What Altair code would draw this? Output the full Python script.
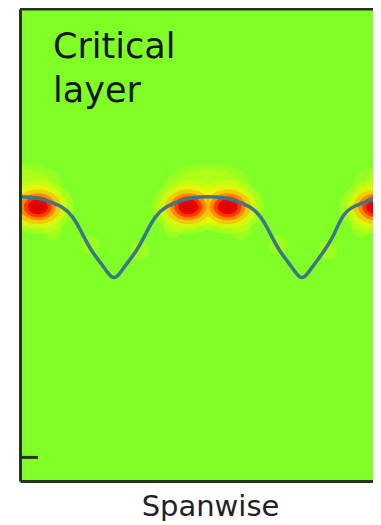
import altair as alt
import pandas as pd

# Critical-layer line: spanwise position (wavelengths) vs wall-normal height
curve_x = [0.00, 0.08, 0.15, 0.22, 0.28, 0.33, 0.38, 0.44, 0.47, 0.50, 0.53, 0.56, 0.62,
           0.67, 0.72, 0.78, 0.85, 0.92, 1.00, 1.08, 1.15, 1.22, 1.28, 1.33, 1.38, 1.44,
           1.47, 1.50, 1.53, 1.56, 1.62, 1.67, 1.72, 1.78, 1.85, 1.92, 2.00]
curve_y = [0.602, 0.600, 0.593, 0.581, 0.559, 0.525, 0.489, 0.456, 0.440, 0.431, 0.440,
           0.456, 0.489, 0.525, 0.559, 0.581, 0.593, 0.600, 0.602, 0.600, 0.593, 0.581,
           0.559, 0.525, 0.489, 0.456, 0.440, 0.431, 0.440, 0.456, 0.489, 0.523, 0.562,
           0.582, 0.593, 0.600, 0.602]

# Strong hot spots (red cores) flanking each crest
hot_x = [-0.105, 0.095, 0.895, 1.105, 1.895, 2.105]
hot_y = [0.581, 0.581, 0.581, 0.581, 0.581, 0.581]

# Weak yellow dome above each crest
dome_x = [0.0, 1.0, 2.0]
dome_y = [0.632, 0.632, 0.632]

# Faint yellow patches along the flanks
weak_x = [0.176, 0.372, 0.638, 0.814, 1.176, 1.372, 1.638, 1.814]
weak_y = [0.532, 0.500, 0.489, 0.536, 0.532, 0.500, 0.489, 0.536]

tick_y = [0.05]
top_y = [1.0]
label_text = ["Critical\nlayer"]

GREEN = "#80ff26"
FRAME = "#24361a"
ELLIPSE = "M -1 0 A 1 0.75 0 1 0 1 0 A 1 0.75 0 1 0 -1 0 Z"
FLAT = "M -1 0 A 1 0.45 0 1 0 1 0 A 1 0.45 0 1 0 -1 0 Z"

xs = alt.Scale(domain=[0, 2], nice=False, zero=False)
ys = alt.Scale(domain=[0, 1], nice=False, zero=False)

x_axis = alt.Axis(title="Spanwise", labels=False, ticks=False, grid=False, domain=True,
                  domainColor=FRAME, domainWidth=3, zindex=1,
                  titleFont="DejaVu Sans", titleFontSize=29, titleFontWeight="normal",
                  titleColor="#222222", titleX=190, titleY=34, titleAlign="center",
                  titleBaseline="alphabetic")
y_axis = alt.Axis(title=None, labels=False, ticks=False, grid=False, domain=True,
                  domainColor=FRAME, domainWidth=3, zindex=1)

hot = pd.DataFrame({"x": hot_x, "y": hot_y})
dome = pd.DataFrame({"x": dome_x, "y": dome_y})
weak = pd.DataFrame({"x": weak_x, "y": weak_y})
curve = pd.DataFrame({"x": curve_x, "y": curve_y})


def enc(ch):
    return ch.encode(x=alt.X("x:Q", scale=xs, axis=x_axis),
                     y=alt.Y("y:Q", scale=ys, axis=y_axis))


layers = []
# faint patches
layers.append(enc(alt.Chart(weak).mark_point(filled=True, shape="circle", size=360,
                                             color="#ffff00", opacity=0.22)))
# domes above crests
for w, op in [(84, 0.18), (60, 0.22)]:
    layers.append(enc(alt.Chart(dome).mark_point(filled=True, shape=FLAT, size=w * w,
                                                 color="#ffff00", opacity=op, clip=True)))
# hot spot rings
rings = [(72, "#ffff00", 0.28), (58, "#fff200", 0.5), (46, "#ffb000", 0.6),
         (36, "#ff7000", 0.75), (28, "#ff2a00", 0.85), (20, "#e80000", 0.9),
         (12, "#d40000", 0.6)]
for w, c, op in rings:
    layers.append(enc(alt.Chart(hot).mark_point(filled=True, shape=ELLIPSE, size=w * w,
                                                color=c, opacity=op, clip=True)))
# critical layer curve
layers.append(enc(alt.Chart(curve).mark_line(color="#3d7688", strokeWidth=3.5,
                                             interpolate="natural")))

# inward tick and top frame line
ticks = pd.DataFrame({"y": tick_y})
layers.append(alt.Chart(ticks).mark_rule(color=FRAME, strokeWidth=3).encode(
    y=alt.Y("y:Q", scale=ys, axis=y_axis), x=alt.value(0), x2=alt.value(18)))
layers.append(alt.Chart(pd.DataFrame({"y": top_y})).mark_rule(color=FRAME, strokeWidth=3).encode(
    y=alt.Y("y:Q", scale=ys, axis=y_axis), x=alt.value(0), x2=alt.value(376)))

layers.append(alt.Chart(pd.DataFrame({"t": label_text})).mark_text(
    lineBreak="\n", align="left", baseline="alphabetic", lineHeight=44,
    font="DejaVu Sans", fontSize=35, color="#161616").encode(
    x=alt.value(33), y=alt.value(49), text="t:N"))

chart = alt.layer(*layers).properties(
    width=376, height=472,
    autosize=alt.AutoSizeParams(type="none"),
    padding={"left": 12, "top": 1, "right": -23, "bottom": 40},
).configure_view(fill=GREEN, strokeWidth=0)

chart.save("out.html", embed_options={"renderer": "svg", "actions": False})
